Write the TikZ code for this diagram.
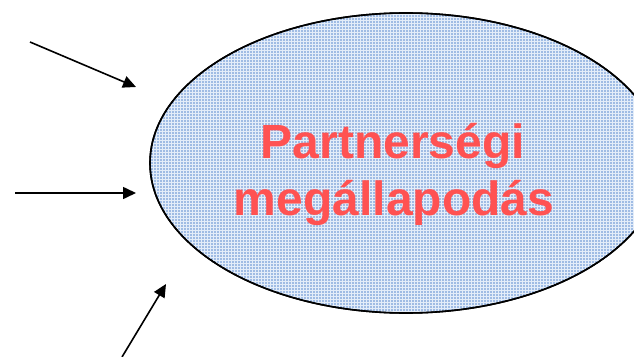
\documentclass[tikz,border=0pt]{standalone}
\usepackage{fontspec}
\setmainfont{Liberation Sans}
\usetikzlibrary{shapes.geometric,arrows.meta,patterns}
\definecolor{ovalblue}{RGB}{160,188,228}
\definecolor{gridwhite}{RGB}{228,237,249}
\definecolor{textred}{RGB}{255,82,82}
\tikzset{
  inarrow/.style={line width=1.6pt,-{Triangle[length=13pt,width=12pt]}},
  bigtext/.style={font=\bfseries\fontsize{48}{57}\selectfont,text=textred,inner sep=0pt,anchor=base},
  oval/.style={ellipse,draw=black,line width=1.6pt,minimum width=512pt,minimum height=300pt,inner sep=0pt}
}
\begin{document}
\begin{tikzpicture}[x=1pt,y=-1pt]
\useasboundingbox (0,0) rectangle (634,356);
\node[oval,fill=ovalblue] (oval) at (406,163) {};
\fill[pattern=grid,pattern color=gridwhite] (406,163) ellipse [x radius=255pt,y radius=149pt];
\node[oval] (ovalborder) at (406,163) {};
\node[bigtext] (line1) at (393,158) {Partnerségi};
\node[bigtext] (line2) at (394,215) {megállapodás};
\coordinate (s1) at (30,42);
\coordinate (t1) at (136,87);
\coordinate (s2) at (15,193);
\coordinate (t2) at (136,193);
\coordinate (s3) at (122,357);
\coordinate (t3) at (166,284);
\draw[inarrow] (s1) -- (t1);
\draw[inarrow] (s2) -- (t2);
\draw[inarrow] (s3) -- (t3);
\end{tikzpicture}
\end{document}
